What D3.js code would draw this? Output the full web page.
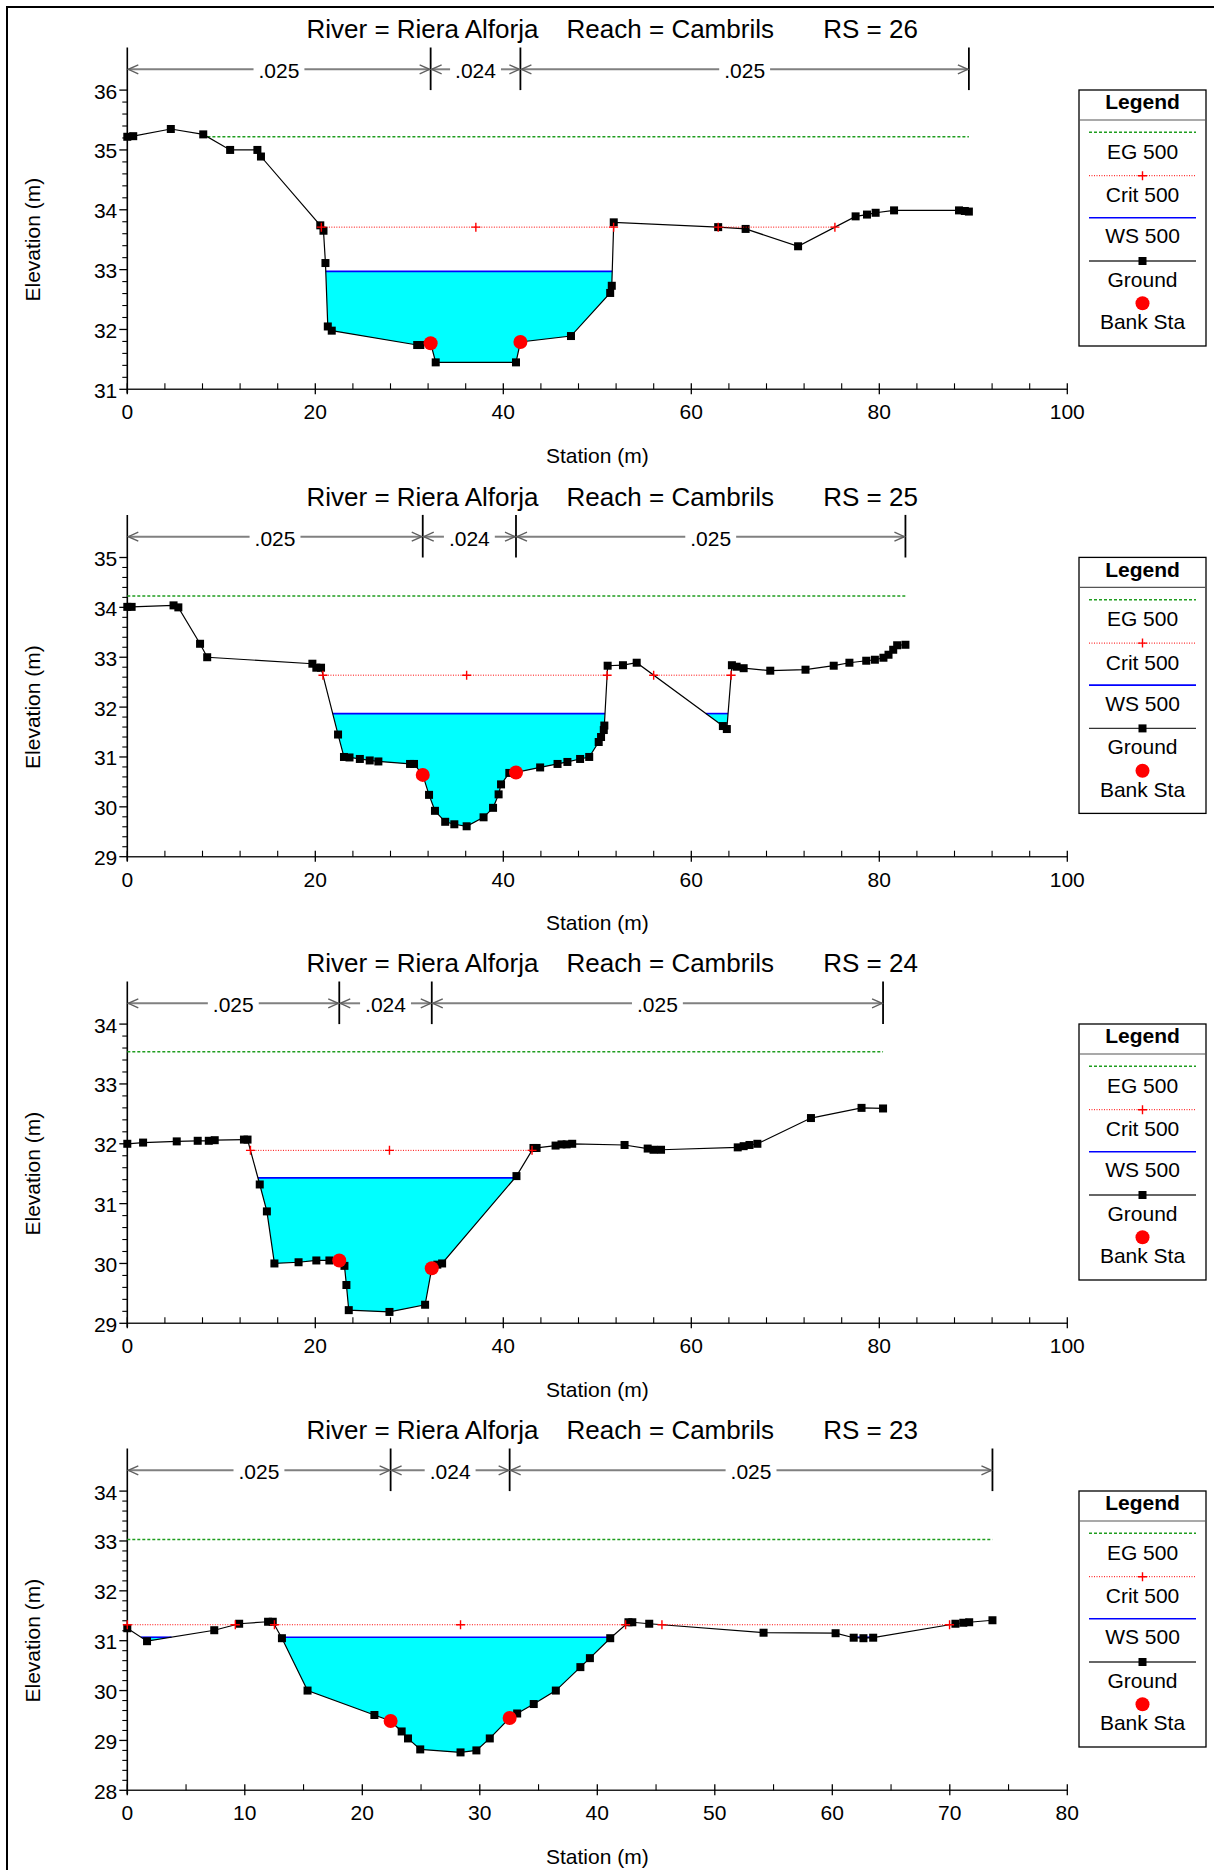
<!DOCTYPE html>
<html><head><meta charset="utf-8">
<script src="https://cdn.jsdelivr.net/npm/d3@7"></script>
<style>
body{margin:0;background:#fff;}
svg text{font-family:"Liberation Sans",Arial,Helvetica,sans-serif;fill:#000;}
</style></head><body>
<svg id="chart" width="1214" height="1870"></svg>
<script>
// ---------------- data ----------------
const riverName = "Riera Alforja";
const reachName = "Cambrils";
const rsLabels = ["26", "25", "24", "23"];

const ground26 = [[0,35.22],[0.63,35.23],[4.63,35.35],[8.08,35.26],[10.94,35.0],[13.84,35.0],[14.22,34.89],[20.53,33.74],[20.87,33.65],[21.08,33.11],[21.33,32.05],[21.75,31.98],[30.84,31.74],[31.17,31.74],[32.27,31.77],[32.81,31.45],[41.35,31.45],[41.82,31.79],[47.2,31.89],[51.37,32.61],[51.54,32.73],[51.75,33.79],[62.86,33.71],[65.78,33.68],[71.36,33.39],[77.48,33.89],[78.69,33.92],[79.61,33.95],[81.57,33.99],[88.48,33.99],[89.1,33.98],[89.53,33.97]];
const ground25 = [[0,34.01],[0.46,34.01],[4.92,34.04],[5.43,34.0],[7.74,33.27],[8.5,33.0],[19.69,32.87],[20.11,32.79],[20.61,32.79],[22.42,31.45],[23.05,31.0],[23.64,30.99],[24.74,30.96],[25.79,30.93],[26.71,30.91],[30.08,30.86],[30.5,30.86],[31.43,30.64],[32.1,30.24],[32.73,29.92],[33.82,29.7],[34.79,29.65],[36.1,29.61],[37.9,29.79],[38.91,29.98],[39.5,30.25],[39.76,30.45],[40.64,30.68],[41.35,30.69],[43.92,30.79],[45.77,30.86],[46.82,30.9],[48.17,30.96],[49.14,31.0],[50.15,31.3],[50.4,31.4],[50.69,31.54],[50.75,31.63],[51.1,32.83],[52.73,32.84],[54.19,32.89],[63.36,31.62],[63.78,31.56],[64.32,32.84],[64.82,32.81],[65.57,32.78],[68.4,32.73],[72.15,32.75],[75.15,32.83],[76.82,32.89],[78.61,32.93],[79.53,32.95],[80.44,32.99],[80.98,33.05],[81.48,33.15],[81.9,33.24],[82.78,33.25]];
const ground24 = [[0,32.0],[1.68,32.02],[5.26,32.04],[7.49,32.05],[8.67,32.05],[9.3,32.06],[12.41,32.07],[12.79,32.07],[14.09,31.32],[14.85,30.87],[15.65,30.0],[18.22,30.02],[20.11,30.05],[21.5,30.05],[22.55,30.05],[23.1,29.96],[23.31,29.64],[23.56,29.22],[27.89,29.19],[31.68,29.31],[32.39,29.92],[32.98,29.98],[33.49,30.0],[41.4,31.46],[43.21,31.93],[43.54,31.93],[45.56,31.97],[46.19,31.99],[46.74,31.99],[47.33,32.0],[52.9,31.98],[55.36,31.92],[55.98,31.9],[56.78,31.9],[64.94,31.94],[65.57,31.96],[66.19,31.98],[67.03,32.0],[72.73,32.43],[78.11,32.6],[80.4,32.59]];
const ground23 = [[0,31.25],[1.68,30.99],[7.4,31.21],[9.52,31.34],[11.98,31.38],[12.38,31.38],[13.16,31.05],[15.34,30.0],[21.03,29.51],[22.41,29.39],[23.35,29.18],[23.89,29.04],[24.93,28.82],[28.36,28.76],[29.71,28.8],[30.85,29.04],[32.54,29.45],[33.18,29.54],[34.59,29.73],[36.47,30.0],[38.56,30.47],[39.37,30.65],[41.1,31.05],[42.65,31.37],[42.98,31.37],[44.42,31.34],[54.15,31.16],[60.28,31.15],[61.82,31.06],[62.65,31.05],[63.48,31.06],[70.48,31.34],[71.15,31.36],[71.65,31.37],[73.63,31.41]];
const grounds = [ground26, ground25, ground24, ground23];

const bankSta26 = [32.27, 41.82];
const bankSta25 = [31.43, 41.35];
const bankSta24 = [22.55, 32.39];
const bankSta23 = [22.41, 32.54];
const bankStas = [bankSta26, bankSta25, bankSta24, bankSta23];

const egElev   = [35.22, 34.23, 33.54, 33.03];
const critElev = [33.71, 32.64, 31.89, 31.32];
const wsElev   = [32.97, 31.87, 31.43, 31.07];

const manningN = [".025", ".024", ".025"];

const xMaxTick  = [100, 100, 100, 80];
const xMajorStep = [20, 20, 20, 10];
const xMinorStep = [4, 4, 4, 5];
const yMinTick = [31, 29, 29, 28];
const yMaxTick = [36, 35, 34, 34];

const legendTitle = "Legend";
const legendLabels = ["EG 500", "Crit 500", "WS 500", "Ground", "Bank Sta"];
const xTitle = "Station (m)";
const yTitle = "Elevation (m)";

// ---------------- layout ----------------
const panelOff = [0, 467.4, 934, 1401];
const X0 = 127.3, X1 = 1067.3;
const BOT = 389.3, TOPTICK = 90.1, TOP = 47.5, NBAR = 69.3;
const FONT = 21;
const C = {eg:"#1f9d1f", crit:"#ff0000", ws:"#0000ff", fill:"#00ffff", ground:"#000", bank:"#ff0000", nline:"#808080"};

const svg = d3.select("#chart");
svg.append("rect").attr("width",1214).attr("height",1870).attr("fill","#fff");
// outer frame
svg.append("line").attr("x1",6).attr("x2",1214).attr("y1",7).attr("y2",7).attr("stroke","#000").attr("stroke-width",2);
svg.append("line").attr("x1",7).attr("x2",7).attr("y1",6).attr("y2",1870).attr("stroke","#000").attr("stroke-width",2);

function below(ground, L) {
  // segments where ground is below level L
  const segs = [];
  let cur = null;
  for (let i = 0; i < ground.length; i++) {
    const [s, e] = ground[i];
    const isBelow = e < L;
    if (i === 0) {
      if (isBelow) cur = {x0: s, pts: [[s, e]]};
      continue;
    }
    const [ps, pe] = ground[i-1];
    const prevBelow = pe < L;
    if (!prevBelow && isBelow) {
      const t = (pe - L) / (pe - e);
      const xs = ps + t * (s - ps);
      cur = {x0: xs, pts: [[xs, L], [s, e]]};
    } else if (prevBelow && isBelow) {
      cur.pts.push([s, e]);
    } else if (prevBelow && !isBelow) {
      const t = (L - pe) / (e - pe);
      const xe = ps + t * (s - ps);
      cur.pts.push([xe, L]);
      cur.x1 = xe;
      segs.push(cur); cur = null;
    }
  }
  if (cur) { const last = ground[ground.length-1]; cur.x1 = last[0]; cur.pts.push([last[0], L]); segs.push(cur); }
  segs.forEach(sg => { if (sg.pts[0][1] !== L) sg.pts.unshift([sg.x0, L]); });
  return segs;
}
function interp(ground, s) {
  for (let i = 1; i < ground.length; i++) {
    const [a, ea] = ground[i-1], [b, eb] = ground[i];
    if (s >= a && s <= b) return b === a ? ea : ea + (eb - ea) * (s - a) / (b - a);
  }
  return ground[ground.length-1][1];
}

function plus(g, cx, cy, col) {
  g.append("path").attr("d", `M${cx-4.5},${cy}H${cx+4.5}M${cx},${cy-4.5}V${cy+4.5}`)
   .attr("stroke", col).attr("stroke-width", 1.4).attr("fill","none");
}

for (let p = 0; p < 4; p++) {
  const off = panelOff[p];
  const g = svg.append("g");
  const ground = grounds[p];
  const x = d3.scaleLinear().domain([0, xMaxTick[p]]).range([X0, X1]);
  const y = d3.scaleLinear().domain([yMinTick[p], yMaxTick[p]]).range([off + BOT, off + TOPTICK]);
  const line = d3.line().x(d => x(d[0])).y(d => y(d[1]));

  // title
  const ty = off + 38.3;
  g.append("text").attr("x", 306.5).attr("y", ty).attr("font-size", 26).text("River = " + riverName);
  g.append("text").attr("x", 566.6).attr("y", ty).attr("font-size", 26).text("Reach = " + reachName);
  g.append("text").attr("x", 823.2).attr("y", ty).attr("font-size", 26).text("RS = " + rsLabels[p]);

  // y axis
  g.append("line").attr("x1", X0).attr("x2", X0).attr("y1", off + TOP).attr("y2", off + BOT + 4)
    .attr("stroke", "#000").attr("stroke-width", 1.6);
  const yMajors = d3.range(yMinTick[p], yMaxTick[p] + 0.001, 1);
  const yMinors = d3.range(yMinTick[p], yMaxTick[p] + 0.001, 0.2).filter(v => Math.abs(v - Math.round(v)) > 0.01);
  yMajors.forEach(v => {
    g.append("line").attr("x1", X0 - 8).attr("x2", X0).attr("y1", y(v)).attr("y2", y(v)).attr("stroke","#000").attr("stroke-width",1.3);
    g.append("text").attr("x", X0 - 10).attr("y", y(v) + 8.5).attr("text-anchor","end").attr("font-size", FONT).text(d3.format("d")(v));
  });
  yMinors.forEach(v => {
    g.append("line").attr("x1", X0 - 5).attr("x2", X0).attr("y1", y(v)).attr("y2", y(v)).attr("stroke","#000").attr("stroke-width",1.1);
  });
  g.append("text").attr("transform", `translate(39.5,${off + (BOT + TOPTICK) / 2}) rotate(-90)`)
    .attr("text-anchor","middle").attr("font-size", FONT).text(yTitle);

  // x axis
  g.append("line").attr("x1", X0).attr("x2", X1).attr("y1", off + BOT).attr("y2", off + BOT)
    .attr("stroke", "#222").attr("stroke-width", 1.6);
  const xMajors = d3.range(0, xMaxTick[p] + 0.001, xMajorStep[p]);
  const xMinors = d3.range(0, xMaxTick[p] + 0.001, xMinorStep[p]).filter(v => v % xMajorStep[p] !== 0);
  xMajors.forEach(v => {
    g.append("line").attr("x1", x(v)).attr("x2", x(v)).attr("y1", off + BOT - 6).attr("y2", off + BOT + 5).attr("stroke","#000").attr("stroke-width",1.3);
    g.append("text").attr("x", x(v)).attr("y", off + BOT + 30).attr("text-anchor","middle").attr("font-size", FONT).text(v);
  });
  xMinors.forEach(v => {
    g.append("line").attr("x1", x(v)).attr("x2", x(v)).attr("y1", off + BOT - 6).attr("y2", off + BOT).attr("stroke","#000").attr("stroke-width",1.1);
  });
  g.append("text").attr("x", (X0 + X1) / 2).attr("y", off + 462.5).attr("text-anchor","middle").attr("font-size", FONT).text(xTitle);

  // Manning's n bar
  const lastSta = ground[ground.length - 1][0];
  const breaks = [0, ...bankStas[p], lastSta];
  const ny = off + NBAR;
  breaks.slice(1).forEach(b => {
    g.append("line").attr("x1", x(b)).attr("x2", x(b)).attr("y1", off + TOP).attr("y2", off + TOPTICK)
      .attr("stroke", "#000").attr("stroke-width", 1.8);
  });
  manningN.forEach((n, k) => {
    const a = x(breaks[k]), b = x(breaks[k+1]);
    const lbl = g.append("text").attr("x", (a + b) / 2).attr("y", ny + 9).attr("text-anchor","middle").attr("font-size", FONT).text(n);
    const w = lbl.node().getComputedTextLength();
    const m = (a + b) / 2;
    g.append("line").attr("x1", a + 1).attr("x2", m - w/2 - 5).attr("y1", ny).attr("y2", ny).attr("stroke", C.nline).attr("stroke-width", 2);
    g.append("line").attr("x1", m + w/2 + 5).attr("x2", b - 1).attr("y1", ny).attr("y2", ny).attr("stroke", C.nline).attr("stroke-width", 2);
    g.append("path").attr("d", `M${a+11},${ny-4.5}L${a+1},${ny}L${a+11},${ny+4.5}M${b-11},${ny-4.5}L${b-1},${ny}L${b-11},${ny+4.5}`)
      .attr("stroke", "#606060").attr("stroke-width", 1.4).attr("fill","none");
  });

  // water fill + WS line
  const wsSegs = below(ground, wsElev[p]);
  wsSegs.forEach(sg => {
    g.append("path").attr("d", line(sg.pts) + "Z").attr("fill", C.fill).attr("stroke","none");
  });
  wsSegs.forEach(sg => {
    g.append("line").attr("x1", x(sg.x0)).attr("x2", x(sg.x1)).attr("y1", y(wsElev[p])).attr("y2", y(wsElev[p]))
      .attr("stroke", C.ws).attr("stroke-width", 1.6);
  });

  // EG
  below(ground, egElev[p]).forEach(sg => {
    g.append("line").attr("x1", x(sg.x0)).attr("x2", x(sg.x1)).attr("y1", y(egElev[p])).attr("y2", y(egElev[p]))
      .attr("stroke", C.eg).attr("stroke-width", 1.5).attr("stroke-dasharray", "3,2");
  });

  // ground
  g.append("path").attr("d", line(ground)).attr("fill","none").attr("stroke", C.ground).attr("stroke-width", 1.2);
  g.selectAll(null).data(ground).enter().append("rect")
    .attr("x", d => x(d[0]) - 4).attr("y", d => y(d[1]) - 4).attr("width", 8).attr("height", 8).attr("fill", "#000");

  // Crit
  const critSegs = below(ground, critElev[p]);
  const minE = d3.min(ground, d => d[1]);
  const thalweg = d3.mean(ground.filter(d => d[1] === minE), d => d[0]);
  critSegs.forEach(sg => {
    g.append("line").attr("x1", x(sg.x0)).attr("x2", x(sg.x1)).attr("y1", y(critElev[p])).attr("y2", y(critElev[p]))
      .attr("stroke", C.crit).attr("stroke-width", 1).attr("stroke-dasharray", "1,1.5");
    plus(g, x(sg.x0), y(critElev[p]), C.crit);
    plus(g, x(sg.x1), y(critElev[p]), C.crit);
    if (thalweg > sg.x0 && thalweg < sg.x1) plus(g, x(thalweg), y(critElev[p]), C.crit);
  });

  // bank stations
  bankStas[p].forEach(b => {
    g.append("circle").attr("cx", x(b)).attr("cy", y(interp(ground, b))).attr("r", 7).attr("fill", C.bank);
  });

  // legend
  const lx0 = 1079, lx1 = 1206, lc = (lx0 + lx1) / 2;
  g.append("rect").attr("x", lx0).attr("y", off + 90).attr("width", lx1 - lx0).attr("height", 256)
    .attr("fill", "#fff").attr("stroke", "#000").attr("stroke-width", 1.3);
  g.append("text").attr("x", lc).attr("y", off + 109.3).attr("text-anchor","middle").attr("font-size", FONT).attr("font-weight","bold").text(legendTitle);
  g.append("line").attr("x1", lx0).attr("x2", lx1).attr("y1", off + 120).attr("y2", off + 120).attr("stroke", "#555").attr("stroke-width", 1.2);
  const sx0 = 1089, sx1 = 1196;
  g.append("line").attr("x1", sx0).attr("x2", sx1).attr("y1", off + 132.3).attr("y2", off + 132.3).attr("stroke", C.eg).attr("stroke-width", 1.5).attr("stroke-dasharray","3,2");
  g.append("line").attr("x1", sx0).attr("x2", sx1).attr("y1", off + 175.7).attr("y2", off + 175.7).attr("stroke", C.crit).attr("stroke-width", 1).attr("stroke-dasharray","1,1.5");
  plus(g, lc, off + 175.7, C.crit);
  g.append("line").attr("x1", sx0).attr("x2", sx1).attr("y1", off + 217.7).attr("y2", off + 217.7).attr("stroke", C.ws).attr("stroke-width", 1.6);
  g.append("line").attr("x1", sx0).attr("x2", sx1).attr("y1", off + 261).attr("y2", off + 261).attr("stroke", "#333").attr("stroke-width", 1.4);
  g.append("rect").attr("x", lc - 4).attr("y", off + 257).attr("width", 8).attr("height", 8).attr("fill", "#000");
  g.append("circle").attr("cx", lc).attr("cy", off + 303.3).attr("r", 7).attr("fill", C.bank);
  const lblY = [159, 202.3, 243.3, 286.7, 329.3];
  legendLabels.forEach((t, k) => {
    g.append("text").attr("x", lc).attr("y", off + lblY[k]).attr("text-anchor","middle").attr("font-size", FONT).text(t);
  });
}
</script>
</body></html>
